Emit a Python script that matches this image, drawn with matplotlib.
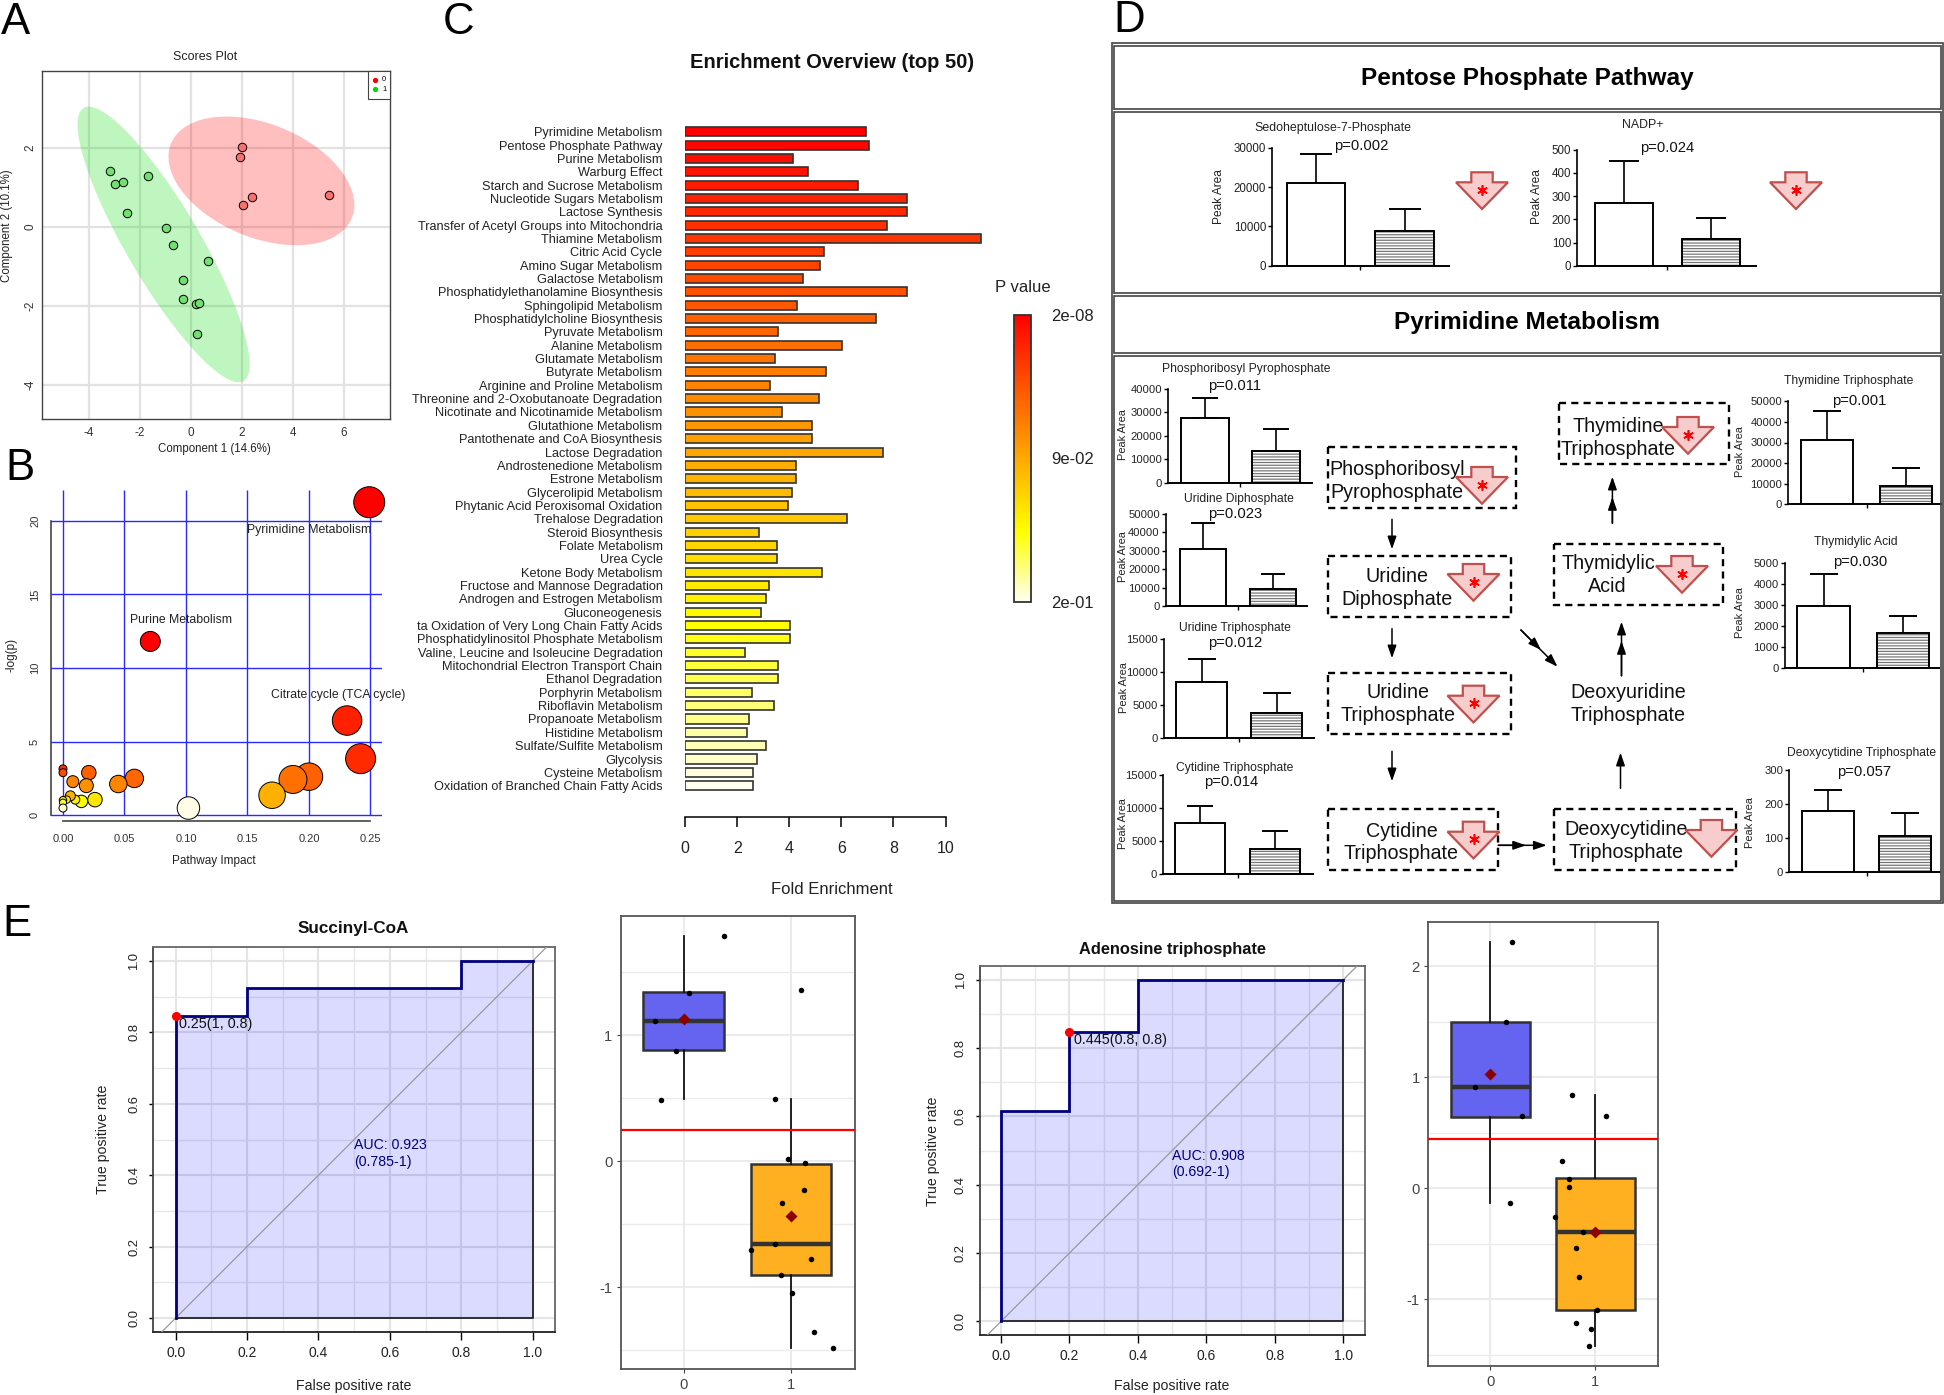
import numpy as np
import matplotlib
matplotlib.use('Agg')
import matplotlib.pyplot as plt
from matplotlib.patches import Ellipse, Rectangle, Polygon
from matplotlib.colors import LinearSegmentedColormap, Normalize
from matplotlib.cm import ScalarMappable

W, H = 1944, 1395
plt.rcParams['font.family'] = ['Liberation Sans', 'DejaVu Sans']
plt.rcParams['hatch.linewidth'] = 0.9
plt.rcParams['axes.unicode_minus'] = False

# ---------- Panel A data
group0_x = [2.02, 1.93, 2.39, 2.06, 5.42]
group0_y = [2.03, 1.76, 0.74, 0.54, 0.81]
group1_x = [-3.18, -2.98, -2.68, -1.68, -2.51, -0.98, -0.71, 0.69, -0.30, -0.31, 0.20, 0.33, 0.23]
group1_y = [1.41, 1.08, 1.14, 1.29, 0.34, -0.04, -0.47, -0.87, -1.34, -1.83, -1.95, -1.93, -2.71]
# ellipse: centre x, centre y, half extent x, half extent y, correlation
ell0 = [2.77, 1.16, 3.65, 1.63, -0.375]
ell1 = [-1.07, -0.45, 3.38, 3.49, -0.87]

# ---------- Panel B data
impact = [0.249, 0.231, 0.242, 0.200, 0.187, 0.170, 0.071, 0.102, 0.058, 0.045, 0.021, 0.019,
          0.008, 0.026, 0.015, 0.010, 0.006, 0.003, 0.0, 0.0, 0.0, 0.0, 0.0]
logp = [21.26, 6.44, 3.85, 2.63, 2.44, 1.37, 11.81, 0.50, 2.51, 2.13, 2.90, 2.02,
        2.29, 1.07, 0.95, 1.07, 1.33, 1.07, 1.03, 0.87, 0.50, 3.16, 2.90]
bubble_px = [31, 29.5, 30, 27.5, 28, 26.5, 20, 22.5, 18.5, 17.5, 14.5, 14,
             12, 14.5, 12.5, 9, 10, 7.5, 7.5, 7, 8, 8, 8]
bubble_col = ['#ff0000', '#ff2000', '#ff2a00', '#ff6000', '#ff7000', '#ffb000', '#ff0000', '#fffde8',
              '#ff6500', '#ff8500', '#ff6000', '#ff9000', '#ff8500', '#ffe600', '#ffff00', '#ffee00',
              '#ffb000', '#fff000', '#ffee00', '#ffff40', '#fffdd0', '#ff3000', '#ff4a00']

# ---------- Panel C data
pathways = ['Pyrimidine Metabolism', 'Pentose Phosphate Pathway', 'Purine Metabolism', 'Warburg Effect',
            'Starch and Sucrose Metabolism', 'Nucleotide Sugars Metabolism', 'Lactose Synthesis',
            'Transfer of Acetyl Groups into Mitochondria', 'Thiamine Metabolism', 'Citric Acid Cycle',
            'Amino Sugar Metabolism', 'Galactose Metabolism', 'Phosphatidylethanolamine Biosynthesis',
            'Sphingolipid Metabolism', 'Phosphatidylcholine Biosynthesis', 'Pyruvate Metabolism',
            'Alanine Metabolism', 'Glutamate Metabolism', 'Butyrate Metabolism', 'Arginine and Proline Metabolism',
            'Threonine and 2-Oxobutanoate Degradation', 'Nicotinate and Nicotinamide Metabolism',
            'Glutathione Metabolism', 'Pantothenate and CoA Biosynthesis', 'Lactose Degradation',
            'Androstenedione Metabolism', 'Estrone Metabolism', 'Glycerolipid Metabolism',
            'Phytanic Acid Peroxisomal Oxidation', 'Trehalose Degradation', 'Steroid Biosynthesis',
            'Folate Metabolism', 'Urea Cycle', 'Ketone Body Metabolism', 'Fructose and Mannose Degradation',
            'Androgen and Estrogen Metabolism', 'Gluconeogenesis', 'ta Oxidation of Very Long Chain Fatty Acids',
            'Phosphatidylinositol Phosphate Metabolism', 'Valine, Leucine and Isoleucine Degradation',
            'Mitochondrial Electron Transport Chain', 'Ethanol Degradation', 'Porphyrin Metabolism',
            'Riboflavin Metabolism', 'Propanoate Metabolism', 'Histidine Metabolism', 'Sulfate/Sulfite Metabolism',
            'Glycolysis', 'Cysteine Metabolism', 'Oxidation of Branched Chain Fatty Acids']
fold = [6.95, 7.07, 4.15, 4.70, 6.62, 8.52, 8.52, 7.75, 11.37, 5.33, 5.18, 4.51, 8.52, 4.29, 7.32, 3.55,
        6.02, 3.46, 5.39, 3.24, 5.13, 3.70, 4.87, 4.87, 7.58, 4.27, 4.27, 4.10, 3.95, 6.23, 2.83, 3.53,
        3.53, 5.25, 3.21, 3.10, 2.92, 4.01, 4.01, 2.28, 3.58, 3.58, 2.57, 3.41, 2.45, 2.38, 3.10, 2.74, 2.62, 2.62]
pvalue_labels = ['2e-01', '9e-02', '2e-08']

# ---------- Panel D data: name, p label, y max, y ticks, [means], [upper error ends]
sedo = ['Sedoheptulose-7-Phosphate', 'p=0.002', 30000, [0, 10000, 20000, 30000], [21000, 8800], [28300, 14500]]
nadp = ['NADP+', 'p=0.024', 500, [0, 100, 200, 300, 400, 500], [270, 115], [450, 205]]
prpp = ['Phosphoribosyl Pyrophosphate', 'p=0.011', 40000, [0, 10000, 20000, 30000, 40000], [27660, 13480], [36170, 22980]]
udp = ['Uridine Diphosphate', 'p=0.023', 50000, [0, 10000, 20000, 30000, 40000, 50000], [30870, 9030], [45120, 17330]]
utp = ['Uridine Triphosphate', 'p=0.012', 15000, [0, 5000, 10000, 15000], [8500, 3770], [11980, 6890]]
ctp = ['Cytidine Triphosphate', 'p=0.014', 15000, [0, 5000, 10000, 15000], [7730, 3790], [10350, 6515]]
ttp = ['Thymidine Triphosphate', 'p=0.001', 50000, [0, 10000, 20000, 30000, 40000, 50000], [31070, 9030], [45440, 17470]]
tmp = ['Thymidylic Acid', 'p=0.030', 5000, [0, 1000, 2000, 3000, 4000, 5000], [2980, 1690], [4510, 2470]]
dctp = ['Deoxycytidine Triphosphate', 'p=0.057', 300, [0, 100, 200, 300], [179, 107.5], [242, 174]]

# ---------- Panel E data
roc1_fpr = [0, 0, 0.2, 0.2, 0.8, 0.8, 1]
roc1_tpr = [0, 0.846, 0.846, 0.923, 0.923, 1, 1]
roc2_fpr = [0, 0, 0.2, 0.2, 0.4, 0.4, 1]
roc2_tpr = [0, 0.615, 0.615, 0.846, 0.846, 1, 1]
box1_stats = [dict(q1=0.881, med=1.116, q3=1.347, whislo=0.492, whishi=1.788),
              dict(q1=-0.899, med=-0.659, q3=-0.021, whislo=-1.481, whishi=0.497)]
box1_means = [1.127, -0.434]
box1_x = [0.374, 0.053, -0.267, -0.075, -0.214, 1.096, 0.850, 0.973, 1.134, 1.118, 0.920, 0.850, 0.626, 1.187, 0.909, 1.005, 1.219, 1.390]
box1_y = [1.788, 1.339, 1.111, 0.878, 0.489, 1.360, 0.497, 0.016, -0.016, -0.230, -0.328, -0.659, -0.706, -0.772, -0.899, -1.048, -1.357, -1.479]
box1_cut = 0.251
box2_stats = [dict(q1=0.646, med=0.91, q3=1.50, whislo=-0.129, whishi=2.222),
              dict(q1=-1.093, med=-0.396, q3=0.09, whislo=-1.42, whishi=0.838)]
box2_means = [1.03, -0.393]
box2_x = [0.209, 0.146, -0.146, 0.306, 0.184, 0.782, 1.102, 0.680, 0.752, 0.752, 0.612, 0.883, 0.820, 0.840, 1.019, 0.820, 0.961, 0.937]
box2_y = [2.222, 1.498, 0.910, 0.649, -0.129, 0.841, 0.655, 0.249, 0.087, 0.012, -0.261, -0.396, -0.538, -0.796, -1.093, -1.21, -1.264, -1.417]
box2_cut = 0.447

# ---------- helpers
fig = plt.figure(figsize=(W / 100, H / 100), dpi=100)
ov = fig.add_axes([0, 0, 1, 1], zorder=20)
ov.set_xlim(0, W); ov.set_ylim(H, 0); ov.axis('off'); ov.patch.set_alpha(0)


def pxax(l, t, r, b, **kw):
    return fig.add_axes([l / W, 1 - b / H, (r - l) / W, (b - t) / H], **kw)


def pt(px):
    return px * 0.72


def axis_labels(ax, xl=None, xp=None, yl=None, yp=None, **kw):
    if xl:
        ax.set_xlabel(xl, va='center', ha='center', **kw)
        ax.xaxis.set_label_coords(xp[0], xp[1], transform=ov.transData)
    if yl:
        ax.set_ylabel(yl, va='center', ha='center', **kw)
        ax.yaxis.set_label_coords(yp[0], yp[1], transform=ov.transData)


def set_title_px(ax, s, x, y, **kw):
    t = ax.set_title(s, y=1.0, va='center', ha='center', **kw)
    t.set_transform(ov.transData)
    t.set_position((x, y))


# ---------- letters
for s, x, y in [('A', 1, 34), ('B', 5, 480), ('C', 443, 34), ('D', 1113, 32), ('E', 2, 936)]:
    ov.text(x, y, s, fontsize=31.5, va='baseline', ha='left', color='black')

# ---------- Panel A
ax = pxax(41.7, 70.7, 390, 418.6)
ax.set_xlim(-5.857, 7.82); ax.set_ylim(-4.86, 3.95)
ax.set_axisbelow(True)
ax.grid(color='#e2e2e2', lw=1.6)
for e, c in [(ell0, '#ff0000'), (ell1, '#00dd00')]:
    cov = np.array([[e[2] ** 2, e[4] * e[2] * e[3]], [e[4] * e[2] * e[3], e[3] ** 2]])
    vals, vecs = np.linalg.eigh(cov)
    ang = np.degrees(np.arctan2(vecs[1, 1], vecs[0, 1]))
    ax.add_patch(Ellipse((e[0], e[1]), 2 * np.sqrt(vals[1]), 2 * np.sqrt(vals[0]), angle=ang,
                         facecolor=c, alpha=0.25, edgecolor='none', zorder=1))
ax.scatter(group0_x, group0_y, s=pt(8.5) ** 2, c='#f87070', edgecolors='black', linewidths=0.7, zorder=3)
ax.scatter(group1_x, group1_y, s=pt(8.5) ** 2, c='#70e070', edgecolors='black', linewidths=0.7, zorder=3)
ax.set_xticks([-4, -2, 0, 2, 4, 6]); ax.set_yticks([-4, -2, 0, 2])
ax.tick_params(length=0, labelsize=8.4, colors='#333333')
ax.tick_params(axis='x', pad=pt(8))
ax.tick_params(axis='y', pad=pt(5))
plt.setp(ax.get_yticklabels(), rotation=90, va='center')
for sp in ax.spines.values():
    sp.set_color('#444444'); sp.set_linewidth(1.0)
axis_labels(ax, 'Component 1 (14.6%)', (214.5, 449), 'Component 2 (10.1%)', (7, 226), fontsize=8.3, color='#222222')
set_title_px(ax, 'Scores Plot', 205, 56.7, fontsize=9, color='#222222')
ov.add_patch(Rectangle((368, 71.3), 22, 27.5, fc='white', ec='#444444', lw=0.8))
ov.plot([375], [79.7], 'o', ms=2.8, color='#ff0000')
ov.plot([375], [89.2], 'o', ms=2.8, color='#00dd00')
ov.text(384.3, 79.7, '0', fontsize=5.5, ha='center', va='center')
ov.text(384.3, 89.2, '1', fontsize=5.5, ha='center', va='center')

# ---------- Panel B
ax = pxax(51, 490, 382, 821)
ax.set_xlim(-0.00975, 0.2594); ax.set_ylim(-0.38, 22.09)
ax.set_axisbelow(True)
ax.grid(axis='y', color='#2a2aff', lw=1.0)
bxt = [0, 0.05, 0.10, 0.15, 0.20, 0.25]
ax.vlines(bxt, 0, 22.09, color='#2a2aff', lw=1.0, zorder=0.5)
ax.scatter(impact, logp, s=[pt(d) ** 2 for d in bubble_px], c=bubble_col, edgecolors='black', linewidths=0.7,
           zorder=3, clip_on=False)
ax.set_xticks(bxt); ax.set_xticklabels(['0.00', '0.05', '0.10', '0.15', '0.20', '0.25'])
ax.set_yticks([0, 5, 10, 15, 20])
ax.tick_params(length=0, labelsize=8, colors='#333333')
ax.tick_params(axis='x', pad=pt(13))
ax.tick_params(axis='y', pad=pt(11))
plt.setp(ax.get_yticklabels(), rotation=90, va='center')
for n in ['top', 'right']:
    ax.spines[n].set_visible(False)
ax.spines['left'].set_bounds(0, 20); ax.spines['bottom'].set_bounds(0, 0.25)
ax.spines['left'].set_color('#444444'); ax.spines['bottom'].set_color('#444444')
ax.spines['left'].set_linewidth(1.2); ax.spines['bottom'].set_linewidth(1.2)
axis_labels(ax, 'Pathway Impact', (214, 860.8), '-log(p)', (11, 655), fontsize=8.5, color='#222222')
for s, x, y in [('Pyrimidine Metabolism', 309.5, 530.3), ('Purine Metabolism', 181, 620), ('Citrate cycle (TCA cycle)', 338, 694.7)]:
    ov.text(x, y, s, fontsize=8.85, ha='center', va='center', color='#222222')

# ---------- Panel C
cm_heat = LinearSegmentedColormap.from_list('heat', [(0, '#ff0000'), (0.755, '#ffff00'), (1, '#fffff0')])
ax = pxax(685.3, 120, 1000, 796)
rows = np.arange(len(fold))
ax.barh(rows, fold, height=0.68, color=[cm_heat(i / (len(fold) - 1)) for i in rows], edgecolor='#333333', lw=1.2)
ax.set_xlim(0, (1000 - 685.3) / 26.02); ax.set_ylim(49.77, -0.877)
ax.set_yticks(rows); ax.set_yticklabels(pathways)
ax.set_xticks([0, 2, 4, 6, 8, 10])
ax.tick_params(axis='y', length=0, pad=pt(22.8), labelsize=9.2, labelcolor='#222222')
ax.tick_params(axis='x', length=pt(10), pad=pt(14), labelsize=11.5, width=1.1, labelcolor='#222222')
for n in ['top', 'right', 'left']:
    ax.spines[n].set_visible(False)
ax.spines['bottom'].set_position(('outward', pt(20.7)))
ax.spines['bottom'].set_bounds(0, 10); ax.spines['bottom'].set_linewidth(1.1)
axis_labels(ax, 'Fold Enrichment', (832, 889), fontsize=12, color='#222222')
set_title_px(ax, 'Enrichment Overview (top 50)', 831.7, 63, fontsize=14.5, fontweight='bold', color='#111111')
cax = pxax(1014.3, 315, 1030.8, 601.7)
cb = fig.colorbar(ScalarMappable(Normalize(0, 1), cm_heat.reversed()), cax=cax, ticks=[0, 0.5, 1])
cb.ax.set_yticklabels(pvalue_labels)
cb.ax.tick_params(length=0, pad=pt(20), labelsize=12, labelcolor='#222222')
cb.outline.set_edgecolor('#333333'); cb.outline.set_linewidth(1.3)
ov.text(1022.8, 288, 'P value', fontsize=12, ha='center', va='center', color='#222222')

# ---------- Panel D frames
FR = '#444444'
ov.add_patch(Rectangle((1111.5, 42.5), 831, 860.5, fc='none', ec=FR, lw=1.2))
for t, b in [(45.5, 109), (112, 293), (295.5, 353), (355.5, 900.5)]:
    ov.add_patch(Rectangle((1114, t), 826.5, b - t, fc='none', ec=FR, lw=1.2))
ov.text(1527, 79, 'Pentose Phosphate Pathway', fontsize=17.6, fontweight='bold', ha='center', va='center')
ov.text(1527, 323, 'Pyrimidine Metabolism', fontsize=17.6, fontweight='bold', ha='center', va='center')


def small_bar(rec, left, right, ybot, ytop, bars, title_xy, p_xy, lab_xy, tfs=8.5, lfs=7.9):
    name, plab, ymax, yt, means, tops = rec
    ax = pxax(left, ytop, right, ybot)
    c0, c1 = (bars[0] + bars[1]) / 2, (bars[2] + bars[3]) / 2
    bw = ((bars[1] - bars[0]) + (bars[3] - bars[2])) / 2
    sp = c1 - c0
    ax.set_xlim((left - c0) / sp, (right - c0) / sp)
    ax.set_ylim(0, ymax)
    ax.bar([0], [means[0]], width=bw / sp, fc='white', ec='black', lw=1.4, zorder=2)
    ax.bar([1], [means[1]], width=bw / sp, fc='white', ec='#777777', lw=0, hatch='------', zorder=2)
    ax.bar([1], [means[1]], width=bw / sp, fc='none', ec='black', lw=1.4, zorder=3)
    ax.errorbar([0, 1], means, yerr=[[0, 0], [tops[0] - means[0], tops[1] - means[1]]], fmt='none', ecolor='black',
                elinewidth=1.2, capthick=1.4, capsize=pt(bw * 0.265), zorder=1, clip_on=False)
    ax.set_yticks(yt); ax.set_xticks([0.5]); ax.set_xticklabels([''])
    ax.tick_params(axis='y', length=3, width=1, pad=1.2, labelsize=tfs - 0.4, labelcolor='#222222')
    ax.tick_params(axis='x', length=3, width=1)
    for n in ['top', 'right']:
        ax.spines[n].set_visible(False)
    ax.spines['left'].set_linewidth(1.2); ax.spines['bottom'].set_linewidth(1.4)
    ax.patch.set_alpha(0)
    ax.set_ylabel('Peak Area', fontsize=lfs, va='center', ha='center', color='#222222')
    ax.yaxis.set_label_coords(lab_xy[0] + 1.5, lab_xy[1], transform=ov.transData)
    set_title_px(ax, name, title_xy[0], title_xy[1], fontsize=tfs + 0.2, color='#222222')
    ov.text(p_xy[0], p_xy[1], plab, fontsize=10.6, ha='center', va='center', color='#111111')


small_bar(sedo, 1272, 1449, 265.7, 147.7, [1287, 1345, 1375, 1434], (1333, 128), (1361.6, 146), (1217, 197), 8.7, 8.6)
small_bar(nadp, 1577, 1755.5, 266, 149.7, [1594.6, 1652.7, 1682, 1740.5], (1642.5, 125), (1667, 148), (1535, 197), 8.7, 8.6)
small_bar(prpp, 1168, 1312, 483, 389, [1180.7, 1229, 1252, 1300], (1246.4, 369), (1235, 386), (1121.5, 435))
small_bar(udp, 1165.7, 1307, 606, 513.7, [1180, 1226.5, 1249.6, 1296], (1239, 499), (1235.6, 513.7), (1121.5, 556.7))
small_bar(utp, 1163.5, 1314, 738.3, 639, [1176, 1227, 1251, 1302], (1234.6, 627.7), (1235.6, 643), (1122.6, 688))
small_bar(ctp, 1163, 1312.6, 874.3, 775.3, [1175, 1225, 1250, 1300], (1234.6, 767.7), (1231, 782.3), (1121.5, 824))
small_bar(ttp, 1787.8, 1941, 504.3, 401.3, [1801, 1853.5, 1880, 1932], (1849, 381), (1859, 400.7), (1738, 451.7))
small_bar(tmp, 1784.6, 1938.5, 668, 563.3, [1797.5, 1849.7, 1876.6, 1928.9], (1856, 541.7), (1860, 562.3), (1738, 613))
small_bar(dctp, 1789, 1939.6, 872.3, 770, [1802.4, 1854, 1879.3, 1931], (1861.6, 753), (1864, 772.3), (1748.5, 822.7))


def down_arrow(cx, top, star=True):
    hw, sw, sh, h = 26, 10.7, 10, 36.7
    ov.add_patch(Polygon([(cx - sw, top), (cx + sw, top), (cx + sw, top + sh), (cx + hw, top + sh), (cx, top + h),
                          (cx - hw, top + sh), (cx - sw, top + sh)], closed=True, fc='#f6cccc', ec='#c0504d', lw=1.6,
                         zorder=6))
    if star:
        ov.plot([cx], [top + 17.5], marker=(6, 2, 0), ms=7.5, mew=1.2, color='#ff0000', zorder=7)


for cx, top, st in [(1482, 172.3, True), (1796, 172.3, True), (1482, 467, True), (1688, 417, True),
                    (1473.5, 564, True), (1473.5, 685.7, True), (1473.5, 821.7, True), (1682, 556, True),
                    (1711.4, 820, False)]:
    down_arrow(cx, top, st)

for l, r, t, b in [(1327.7, 1516, 447.3, 508.3), (1559, 1728.6, 403.3, 464.3), (1327.7, 1510.7, 556, 616.7),
                   (1327.7, 1510.7, 673.3, 734), (1327.7, 1498.3, 809.3, 870), (1553.7, 1723, 544, 604.7),
                   (1553.7, 1736, 809.3, 870)]:
    ov.add_patch(Rectangle((l, t), r - l, b - t, fc='none', ec='black', lw=1.7, ls=(0, (3, 2.2)), zorder=5))

for s, x, y in [('Phosphoribosyl', 1397, 467.7), ('Pyrophosphate', 1397, 490.7), ('Uridine', 1397, 575.3),
                ('Diphosphate', 1397, 598.3), ('Uridine', 1397.5, 691), ('Triphosphate', 1397.5, 714),
                ('Cytidine', 1401.4, 829.7), ('Triphosphate', 1401.4, 852.3), ('Thymidine', 1617.8, 425),
                ('Triphosphate', 1617.8, 447.7), ('Thymidylic', 1608.6, 562.3), ('Acid', 1607.5, 585),
                ('Deoxycytidine', 1626.4, 828.3), ('Triphosphate', 1626.4, 851.3), ('Deoxyuridine', 1628, 691),
                ('Triphosphate', 1628, 714)]:
    ov.text(x, y + 1.5, s, fontsize=14.2, ha='center', va='center', color='#111111', zorder=8)


def flow(p0, p1, mid=None):
    style = '-|>,head_length=0.55,head_width=0.19'
    kw = dict(arrowstyle=style, mutation_scale=14, lw=1.1, color='black', shrinkA=0, shrinkB=0)
    ov.annotate('', xy=p1, xytext=p0, arrowprops=kw, zorder=7)
    if mid:
        ov.annotate('', xy=mid, xytext=p0, arrowprops=kw, zorder=7)


flow((1392, 519.3), (1392, 549.3))
flow((1392, 628.7), (1392, 658.3))
flow((1392, 751.3), (1392, 781.3))
flow((1612.4, 523.3), (1612.4, 476.7), (1612.4, 497))
flow((1621.5, 675.7), (1621.5, 621.7), (1621.5, 641))
flow((1620.5, 788.3), (1620.5, 752.7))
flow((1520.9, 630), (1557.5, 666.7), (1541, 650))
flow((1498.3, 845.3), (1546.7, 845.3), (1526, 845.3))


# ---------- Panel E
def roc(box, xl, yl, fpr, tpr, title, title_xy, tfs, xlab_xy, ylab_xy, dot, dot_lab, dot_xy, auc, auc_ys, ytlpad):
    ax = pxax(*box)
    ax.set_xlim(*xl); ax.set_ylim(*yl)
    ax.set_axisbelow(True)
    ax.set_xticks(np.arange(0, 1.01, 0.2)); ax.set_yticks(np.arange(0, 1.01, 0.2))
    ax.set_xticks(np.arange(0.1, 1, 0.2), minor=True); ax.set_yticks(np.arange(0.1, 1, 0.2), minor=True)
    ax.grid(which='major', color='#e4e4e4', lw=1.5)
    ax.grid(which='minor', color='#e8e8e8', lw=1.0)
    ax.axline((0, 0), (1, 1), color='#999999', lw=0.9, zorder=3)
    ax.fill_between(fpr + [1], tpr + [0], 0, color='#0000ff', alpha=0.14, lw=0, zorder=2)
    ax.plot([0, 1, 1], [0, 0, 1], color='#222222', lw=1.3, zorder=4)
    ax.plot(fpr, tpr, color='navy', lw=2, zorder=5, solid_joinstyle='miter')
    ax.plot(*dot, 'o', color='#ff0000', ms=5.5, zorder=6)
    ax.tick_params(which='minor', length=0)
    ax.tick_params(axis='x', which='major', length=pt(8), pad=pt(6), labelsize=10, width=1, labelcolor='#222222')
    ax.tick_params(axis='y', which='major', length=pt(4), pad=pt(ytlpad), labelsize=9.4, width=1, labelcolor='#222222')
    plt.setp(ax.get_yticklabels(), rotation=90, va='center')
    for n in ['top', 'right']:
        ax.spines[n].set_color('#666666')
    for sp in ax.spines.values():
        sp.set_linewidth(1.3)
    ax.spines['left'].set_color('#444444'); ax.spines['bottom'].set_color('#222222')
    axis_labels(ax, 'False positive rate', xlab_xy, 'True positive rate', ylab_xy, fontsize=10.2, color='#222222')
    set_title_px(ax, title, title_xy[0], title_xy[1], fontsize=tfs, fontweight='bold', color='#111111')
    ov.text(dot_xy[0], dot_xy[1], dot_lab, fontsize=10.4, ha='left', va='center', color='#111111')
    ov.text(auc[1], auc_ys[0], auc[0], fontsize=10.2, ha='left', va='center', color='navy')
    ov.text(auc[1], auc_ys[1], auc[2], fontsize=10.2, ha='left', va='center', color='navy')


roc((153.3, 946.7, 555, 1332.3), (-0.0627, 1.0625), (-0.04, 1.04), roc1_fpr, roc1_tpr, 'Succinyl-CoA', (353.6, 929), 12.3,
    (353.6, 1385.7), (103.3, 1139), (0, 0.846), '0.25(1, 0.8)', (179, 1023.7), ('AUC: 0.923', 354.2, '(0.785-1)'),
    (1145, 1162), 9)
roc((979.6, 966, 1364.8, 1335), (-0.0626, 1.0626), (-0.04, 1.04), roc2_fpr, roc2_tpr, 'Adenosine triphosphate', (1172.4, 949.3), 11.8,
    (1172, 1386), (933, 1151), (0.2, 0.846), '0.445(0.8, 0.8)', (1074, 1039.7), ('AUC: 0.908', 1172, '(0.692-1)'),
    (1155.7, 1172), 9)


def boxp(box, xl, yl, stats, means, px_, py_, cut, yt, ym):
    ax = pxax(*box)
    ax.set_xlim(*xl); ax.set_ylim(*yl)
    ax.set_axisbelow(True)
    ax.set_yticks(yt); ax.set_yticks(ym, minor=True); ax.set_xticks([0, 1])
    ax.grid(which='major', color='#ebebeb', lw=1.5)
    ax.grid(which='minor', axis='y', color='#ebebeb', lw=1.0)
    st = [dict(s, fliers=[]) for s in stats]
    art = ax.bxp(st, positions=[0, 1], widths=0.75, patch_artist=True, showcaps=False, showfliers=False,
                 manage_ticks=False,
                 boxprops=dict(edgecolor='#333333', lw=1.8),
                 medianprops=dict(color='#333333', lw=3.2, solid_capstyle='butt'),
                 whiskerprops=dict(color='#111111', lw=1.3))
    art['boxes'][0].set_facecolor('#6464f0'); art['boxes'][1].set_facecolor('#ffb020')
    ax.axhline(cut, color='#ff0000', lw=1.6, zorder=3)
    ax.scatter(px_, py_, s=pt(5.5) ** 2, color='black', zorder=6, lw=0)
    ax.scatter([0, 1], means, s=pt(8.5) ** 2, marker='D', color='#8b0000', zorder=7, lw=0)
    ax.tick_params(which='minor', length=0)
    ax.tick_params(which='major', length=3, labelsize=10.6, labelcolor='#444444', color='#444444', pad=pt(4))
    ax.tick_params(axis='x', pad=pt(5))
    for sp in ax.spines.values():
        sp.set_color('#555555'); sp.set_linewidth(1.3)


boxp((620.6, 915.7, 854.8, 1368.7), (-0.588, 1.595), (-1.646, 1.949), box1_stats, box1_means, box1_x, box1_y, box1_cut,
     [-1, 0, 1], [-1.5, -0.5, 0.5, 1.5])
boxp((1428, 922, 1658, 1365.7), (-0.593, 1.596), (-1.598, 2.399), box2_stats, box2_means, box2_x, box2_y, box2_cut,
     [-1, 0, 1, 2], [-1.5, -0.5, 0.5, 1.5])

fig.savefig('out.png', dpi=100)
